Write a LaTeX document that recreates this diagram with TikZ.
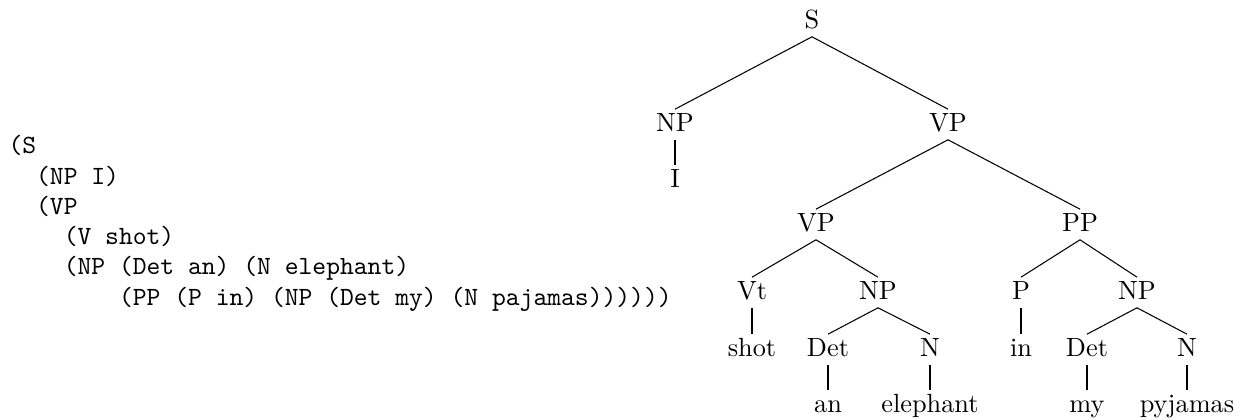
\documentclass[tikz,border=0pt]{standalone}
\begin{document}
\begin{tikzpicture}[x=0.38pt, y=-0.38pt]
        \tikzset{cat/.style={anchor=base, inner xsep=0pt, inner ysep=1.2pt, text height=1.6ex, text depth=.45ex}}
        \useasboundingbox (0,0) rectangle (1245,419);

        % Bracketed form
        \node[anchor=north west, inner sep=0pt, align=left, font=\ttfamily\fontsize{10}{11.5}\selectfont] (brackets) at (8,135)
            {(S\\
             ~~(NP I)\\
             ~~(VP\\
             ~~~~(V shot)\\
             ~~~~(NP (Det an) (N elephant)\\
             ~~~~~~~~(PP (P in) (NP (Det my) (N pajamas))))))};

        % Tree: inner nodes
        \node[cat] (s) at (812,28) {S};
        \node[cat] (np1) at (675,131) {NP};
        \node[cat] (vp1) at (948,131) {VP};
        \node[cat] (vp2) at (816,231) {VP};
        \node[cat] (pp) at (1080,231) {PP};
        \node[cat] (vt) at (752,299) {Vt};
        \node[cat] (np2) at (878,299) {NP};
        \node[cat] (p) at (1021,299) {P};
        \node[cat] (np3) at (1137,299) {NP};
        \node[cat] (det1) at (828,356) {Det};
        \node[cat] (n1) at (930,356) {N};
        \node[cat] (det2) at (1087,356) {Det};
        \node[cat] (n2) at (1187,356) {N};

        % Tree: leaves
        \node[cat] (lI) at (675,187) {I};
        \node[cat] (lshot) at (752,356) {shot};
        \node[cat] (lin) at (1021,356) {in};
        \node[cat] (lan) at (828,412) {an};
        \node[cat] (lelephant) at (930,412) {elephant};
        \node[cat] (lmy) at (1087,412) {my};
        \node[cat] (lpyjamas) at (1187,412) {pyjamas};

        % Branches
        \draw (s.south) -- (np1.north);
        \draw (s.south) -- (vp1.north);
        \draw (np1.south) -- (lI.north);
        \draw (vp1.south) -- (vp2.north);
        \draw (vp1.south) -- (pp.north);
        \draw (vp2.south) -- (vt.north);
        \draw (vp2.south) -- (np2.north);
        \draw (vt.south) -- (lshot.north);
        \draw (np2.south) -- (det1.north);
        \draw (np2.south) -- (n1.north);
        \draw (det1.south) -- (lan.north);
        \draw (n1.south) -- (lelephant.north);
        \draw (pp.south) -- (p.north);
        \draw (pp.south) -- (np3.north);
        \draw (p.south) -- (lin.north);
        \draw (np3.south) -- (det2.north);
        \draw (np3.south) -- (n2.north);
        \draw (det2.south) -- (lmy.north);
        \draw (n2.south) -- (lpyjamas.north);
    \end{tikzpicture}
\end{document}
